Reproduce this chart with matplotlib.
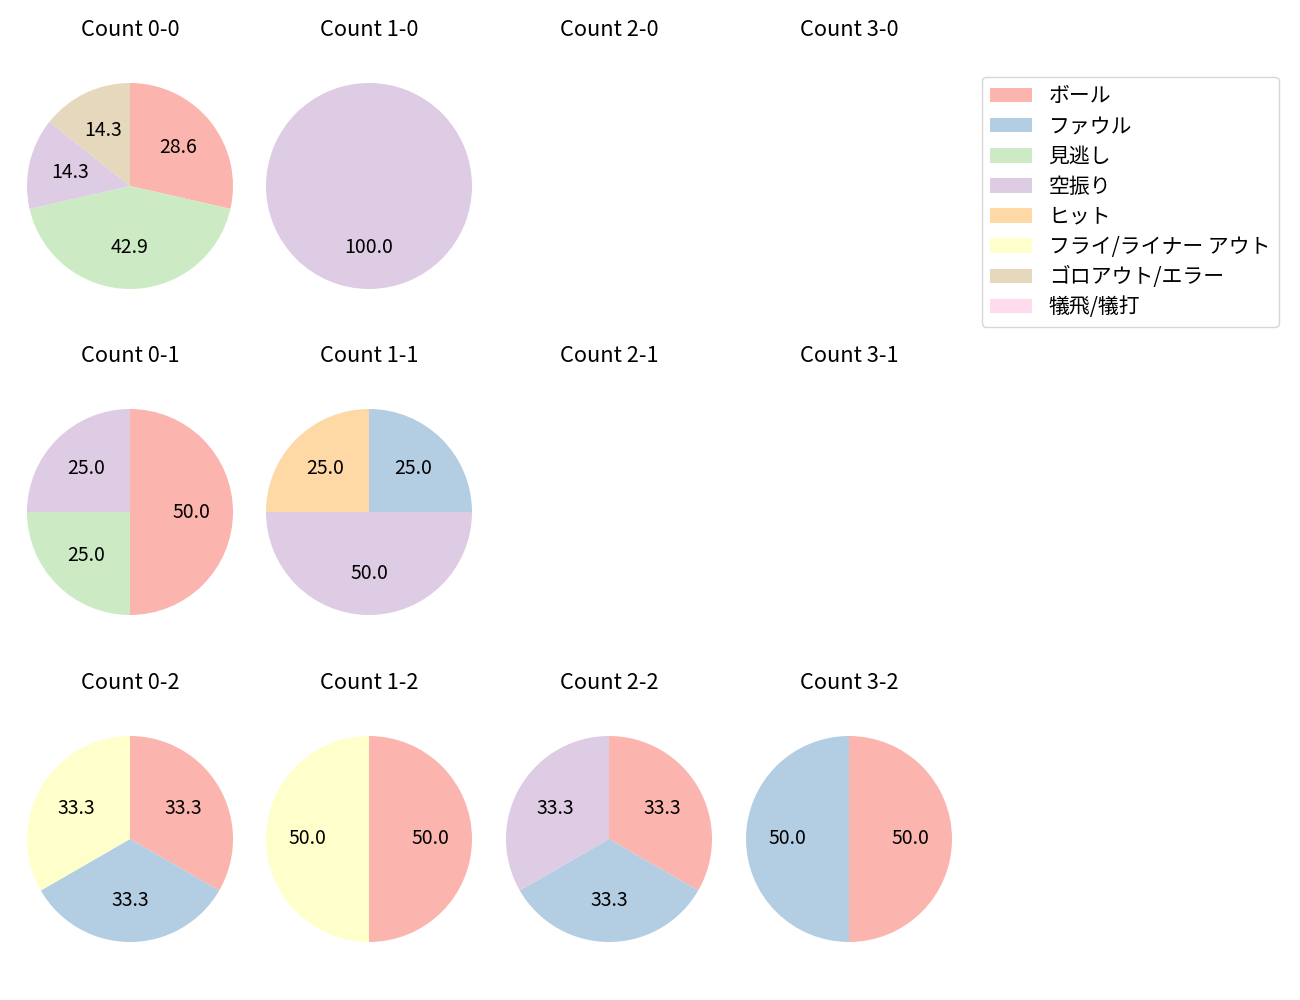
import matplotlib.pyplot as plt
from matplotlib.patches import Patch

plt.rcParams['font.family'] = ['Noto Sans CJK JP', 'DejaVu Sans']
plt.rcParams['font.size'] = 14

categories = ["ボール", "ファウル", "見逃し", "空振り", "ヒット",
              "フライ/ライナー アウト", "ゴロアウト/エラー", "犠飛/犠打"]
colors = plt.get_cmap("Pastel1").colors[:8]

# pitch result counts per ball-strike count, same order as categories
counts = {
    "0-0": [2, 0, 3, 1, 0, 0, 1, 0],
    "1-0": [0, 0, 0, 1, 0, 0, 0, 0],
    "2-0": [0, 0, 0, 0, 0, 0, 0, 0],
    "3-0": [0, 0, 0, 0, 0, 0, 0, 0],
    "0-1": [2, 0, 1, 1, 0, 0, 0, 0],
    "1-1": [0, 1, 0, 2, 1, 0, 0, 0],
    "2-1": [0, 0, 0, 0, 0, 0, 0, 0],
    "3-1": [0, 0, 0, 0, 0, 0, 0, 0],
    "0-2": [1, 1, 0, 0, 0, 1, 0, 0],
    "1-2": [1, 0, 0, 0, 0, 1, 0, 0],
    "2-2": [1, 1, 0, 1, 0, 0, 0, 0],
    "3-2": [1, 1, 0, 0, 0, 0, 0, 0],
}

W, H = 1300, 1000
fig = plt.figure(figsize=(13, 10), dpi=100)

col_x = [130, 369, 609, 849]
row_y = [186, 512, 839]
radius_px = 103
ax_w, ax_h = 227, 288

for r in range(3):
    for c in range(4):
        key = f"{c}-{r}"
        cx, cy = col_x[c], row_y[r]
        ax = fig.add_axes([(cx - ax_w / 2) / W, 1 - (cy + ax_h / 2) / H, ax_w / W, ax_h / H])
        vals = counts[key]
        if sum(vals) > 0:
            idx = [i for i, v in enumerate(vals) if v > 0]
            ax.pie([vals[i] for i in idx], colors=[colors[i] for i in idx],
                   startangle=90, counterclock=False, autopct="%.1f")
        ax.set_xlim(-(ax_w / 2) / radius_px, (ax_w / 2) / radius_px)
        ax.set_ylim(-(ax_h / 2) / radius_px, (ax_h / 2) / radius_px)
        ax.set_aspect("equal")
        ax.axis("off")
        ax.set_title(f"Count {key}", fontsize=15.7, pad=4.5)

handles = [Patch(facecolor=col, label=lab) for col, lab in zip(colors, categories)]
fig.legend(handles=handles, loc="upper left", bbox_to_anchor=(982 / W, 1 - 77 / H),
           borderaxespad=0, fontsize=15, labelspacing=0.39)

fig.savefig("out.png", dpi=100)
